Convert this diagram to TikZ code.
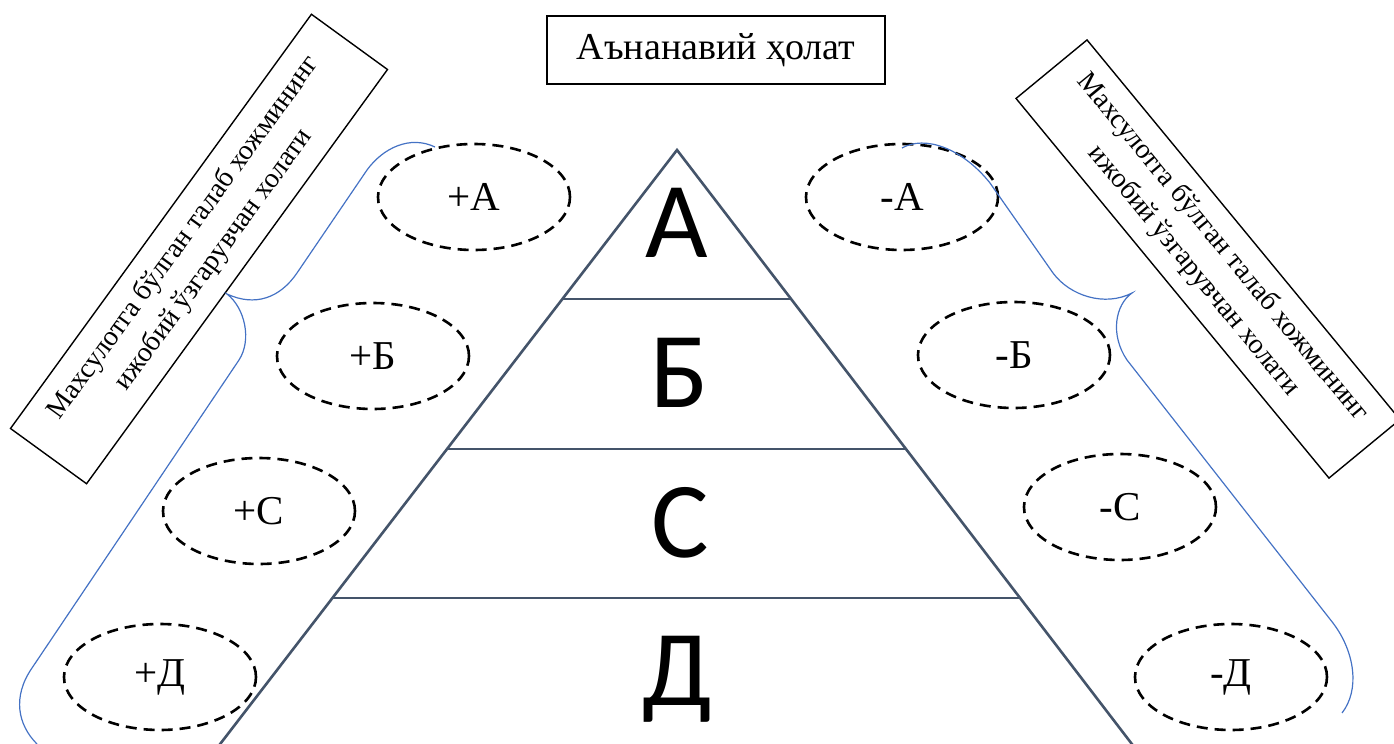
\documentclass[tikz,border=0pt]{standalone}
\usepackage{fontspec}
\setmainfont{Liberation Serif}
\newfontfamily\pyrfont{Carlito}
\usetikzlibrary{shapes.geometric}
\definecolor{pyrline}{HTML}{44546A}
\definecolor{bracecol}{HTML}{4472C4}
\begin{document}
\begin{tikzpicture}[x=0.5pt,y=-0.5pt,
  oval/.style={draw=black, dash pattern=on 5.5pt off 3.5pt, line width=1.3pt, ellipse,
    minimum width=96pt, minimum height=53pt, inner sep=0pt,
    font=\fontsize{20.5}{24}\selectfont},
  pyr/.style={draw=pyrline, line width=1.3pt},
  pyrletter/.style={anchor=base, inner sep=0pt, font=\pyrfont\fontsize{54}{60}\selectfont},
  titlebox/.style={draw=black, line width=0.8pt, minimum width=169pt, minimum height=34pt,
    inner sep=0pt, font=\fontsize{19}{23}\selectfont},
  sidebox/.style={draw=black, line width=0.7pt, minimum width=256pt, minimum height=47pt,
    inner sep=0pt, align=center, font=\fontsize{14}{18.5}\selectfont},
  brace/.style={draw=bracecol, line width=0.6pt}]
\useasboundingbox (0,0) rectangle (1394,744);
\clip (0,0) rectangle (1394,744);

% pyramid
\coordinate (apex) at (677,150);
\coordinate (L1) at (563,299);
\coordinate (R1) at (791,299);
\coordinate (L2) at (447,449);
\coordinate (R2) at (906,449);
\coordinate (L3) at (332,598);
\coordinate (R3) at (1020,598);
\coordinate (LB) at (214,752);
\coordinate (RB) at (1138,752);
\draw[pyr] (LB) -- (apex) -- (RB);
\draw[pyr] (L1) -- (R1);
\draw[pyr] (L2) -- (R2);
\draw[pyr] (L3) -- (R3);

\node[pyrletter] (pA) at (677,257) {А};
\node[pyrletter] (pB) at (680,407) {Б};
\node[pyrletter] (pC) at (680,557) {С};
\node[pyrletter] (pD) at (677,705) {Д};

% title
\node[titlebox] (title) at (716,50) {Аънанавий ҳолат};

% ellipses
\node[oval] (pa) at (474,197) {+А};
\node[oval] (pb) at (373,356) {+Б};
\node[oval] (pc) at (259,511) {+С};
\node[oval] (pd) at (160,677) {+Д};
\node[oval] (ma) at (902,197) {-А};
\node[oval] (mb) at (1014,355) {-Б};
\node[oval] (mc) at (1120,507) {-С};
\node[oval] (md) at (1231,677) {-Д};

% side boxes
\node[sidebox, rotate=54] (lbox) at (199,249)
  {Махсулотга бўлган талаб хожмининг\\ижобий ўзгарувчан холати};
\node[sidebox, minimum width=246pt, minimum height=46pt, rotate=-50.5] (rbox) at (1208,259)
  {Махсулотга бўлган талаб хожмининг\\ижобий ўзгарувчан холати};

% braces
\coordinate (lt) at (435,147);
\coordinate (ltip) at (227,294);
\coordinate (lb) at (37,744);
\draw[brace] (lt) .. controls (410,135) and (383,148) .. (367,170)
  -- (297,273) .. controls (280,298) and (255,307) .. (ltip)
  .. controls (245,308) and (252,340) .. (239,360)
  -- (32,668) .. controls (12,697) and (18,725) .. (lb);

\coordinate (rt) at (902,148);
\coordinate (rtip) at (1132,293);
\coordinate (rb) at (1342,713);
\draw[brace] (rt) .. controls (925,135) and (962,148) .. (990,183)
  -- (1053,273) .. controls (1070,296) and (1105,307) .. (rtip)
  .. controls (1115,305) and (1110,335) .. (1127,360)
  -- (1333,623) .. controls (1355,652) and (1360,690) .. (rb);
\end{tikzpicture}
\end{document}
